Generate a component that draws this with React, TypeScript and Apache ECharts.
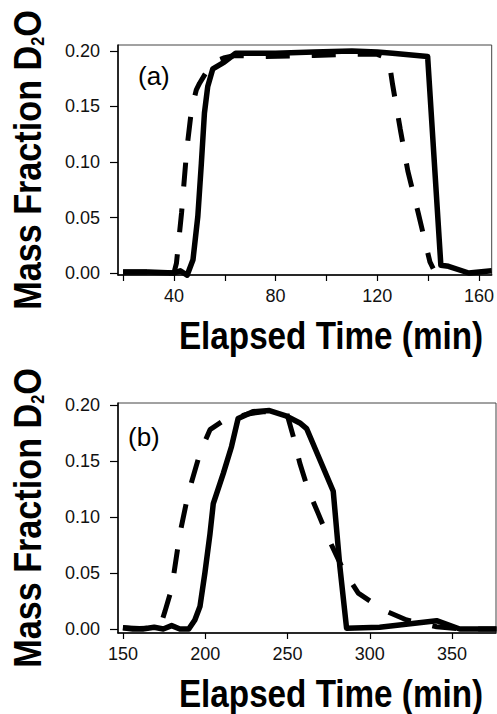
import React, { useEffect, useRef } from "react";
import * as echarts from "echarts";

// Panel (a)
const timeA_solid = [20, 30, 40, 42.5, 45.2, 47.5, 49.4, 50.8, 52, 53.3, 55.3, 59.8, 64.3, 80, 95, 110, 120, 126, 139.8, 145, 148, 156, 165];
const fracA_solid = [0.001, 0.001, 0.0, 0.002, -0.002, 0.012, 0.051, 0.099, 0.144, 0.168, 0.184, 0.19, 0.198, 0.198, 0.199, 0.2, 0.199, 0.198, 0.195, 0.007, 0.006, 0.0, 0.002];
const timeA_dashed = [20, 30, 40, 41, 43, 45, 46.9, 48.8, 50.1, 53, 55.3, 60, 64, 76, 95, 110, 120, 124.5, 126, 129, 132, 136, 140.7, 142];
const fracA_dashed = [0.001, 0.001, 0.0, 0.009, 0.054, 0.11, 0.147, 0.165, 0.171, 0.182, 0.19, 0.194, 0.196, 0.195, 0.196, 0.197, 0.197, 0.193, 0.17, 0.13, 0.092, 0.055, 0.01, 0.004];

// Panel (b)
const timeB_solid = [150, 156, 162, 169, 174.5, 179.6, 184.6, 190, 193.7, 196.8, 199.8, 202.9, 204.9, 211, 216, 220, 229, 239, 249.5, 257.5, 261.6, 277.8, 281.8, 285.9, 306, 340.6, 354.7, 377];
const fracB_solid = [0.001, 0, 0, 0.0015, 0, 0.003, 0, 0, 0.008, 0.02, 0.05, 0.085, 0.112, 0.139, 0.163, 0.188, 0.194, 0.195, 0.19, 0.184, 0.179, 0.123, 0.056, 0.0006, 0.0015, 0.0074, 0, 0];
const timeB_dashed = [150, 160, 170, 173, 175.5, 179.6, 184.6, 189.7, 196.8, 202.9, 210, 217, 226, 235.2, 245, 249.5, 253.5, 257.5, 262.6, 268.7, 275.8, 283.8, 293, 308.1, 322.4, 340.6, 355, 377];
const fracB_dashed = [0.001, 0.0005, 0.001, 0.004, 0.0155, 0.036, 0.085, 0.121, 0.157, 0.178, 0.185, 0.188, 0.192, 0.194, 0.194, 0.193, 0.172, 0.148, 0.124, 0.103, 0.078, 0.053, 0.032, 0.017, 0.008, 0.002, 0, 0];

// Ticks
const yTicks = [0, 0.05, 0.1, 0.15, 0.2];
const xTicksA = [20, 40, 60, 80, 100, 120, 140, 160];
const xLabelsA = [40, 80, 120, 160];
const xTicksB = [150, 200, 250, 300, 350];

const yTitle = "Mass Fraction D{sub|2}O";
const xTitle = "Elapsed Time (min)";
const panelLabels = ["(a)", "(b)"];

const FONT = "'Liberation Sans', Arial, Helvetica, sans-serif";

const pairs = (xs: number[], ys: number[]) => xs.map((x, i) => [x, ys[i]]);

export default function App() {
  const ref = useRef<HTMLDivElement>(null);
  useEffect(() => {
    if (!ref.current) return;
    const chart = echarts.init(ref.current, undefined, { renderer: "svg" });

    const grids = [
      { left: 118, top: 45, width: 378, height: 230 },
      { left: 118, top: 403, width: 378, height: 230 },
    ];

    const axisLineStyle = { show: true, onZero: false, lineStyle: { color: "#000", width: 1.5 } };
    const labelStyle = { color: "#111", fontSize: 18, fontFamily: FONT };

    const xAxisCommon = (idx: number, min: number, max: number, ticks: number[], labels: number[]) => ({
      type: "value" as const,
      gridIndex: idx,
      min,
      max,
      axisLine: axisLineStyle,
      axisTick: { show: true, inside: false, length: 6, customValues: ticks, lineStyle: { color: "#000", width: 1.2 } },
      axisLabel: { ...labelStyle, margin: 12, customValues: labels, formatter: (v: number) => String(v) },
      splitLine: { show: false },
    });

    const yAxisCommon = (idx: number, min: number, max: number) => ({
      type: "value" as const,
      gridIndex: idx,
      min,
      max,
      axisLine: axisLineStyle,
      axisTick: { show: true, inside: false, length: 8, customValues: yTicks, lineStyle: { color: "#000", width: 1.2 } },
      axisLabel: { ...labelStyle, margin: 18, customValues: yTicks, formatter: (v: number) => v.toFixed(2) },
      splitLine: { show: false },
    });

    const solid = (xi: number, data: number[][]) => ({
      type: "line" as const,
      xAxisIndex: xi,
      yAxisIndex: xi,
      data,
      symbol: "none",
      showSymbol: false,
      clip: false,
      z: 4,
      lineStyle: { color: "#000", width: 5.5, type: "solid" as const, join: "round" as const },
    });
    const dashed = (xi: number, data: number[][]) => ({
      type: "line" as const,
      xAxisIndex: xi,
      yAxisIndex: xi,
      data,
      symbol: "none",
      showSymbol: false,
      clip: false,
      z: 3,
      lineStyle: { color: "#000", width: 5, type: [24, 22], cap: "butt" as const },
    });

    const titleStyle = {
      fontSize: 38,
      fontWeight: "bold",
      fontFamily: FONT,
      fill: "#000",
      align: "center",
      verticalAlign: "middle",
    };

    const yTitleEl = (cy: number) => ({
      type: "text",
      x: 28,
      y: cy,
      rotation: Math.PI / 2,
      scaleX: 0.9,
      style: {
        ...titleStyle,
        text: yTitle,
        rich: {
          sub: { fontSize: 18, fontWeight: "bold", fontFamily: FONT, fill: "#000", verticalAlign: "bottom" },
        },
      },
    });
    const xTitleEl = (cy: number) => ({
      type: "text",
      x: 331,
      y: cy,
      scaleX: 0.875,
      style: { ...titleStyle, text: xTitle },
    });
    const panelEl = (text: string, x: number, cy: number) => ({
      type: "text",
      x,
      y: cy,
      style: { text, fontSize: 26, fontFamily: FONT, fill: "#000", align: "left", verticalAlign: "middle" },
    });

    chart.setOption({
      animation: false,
      backgroundColor: "#fff",
      grid: grids.map((g) => ({ ...g, show: true, borderColor: "#444", borderWidth: 1, backgroundColor: "transparent" })),
      xAxis: [
        xAxisCommon(0, 18, 165, xTicksA, xLabelsA),
        xAxisCommon(1, 147, 376.7, xTicksB, xTicksB),
      ],
      yAxis: [yAxisCommon(0, -0.0018, 0.2054), yAxisCommon(1, -0.0036, 0.2018)],
      series: [
        dashed(0, pairs(timeA_dashed, fracA_dashed)),
        solid(0, pairs(timeA_solid, fracA_solid)),
        dashed(1, pairs(timeB_dashed, fracB_dashed)),
        solid(1, pairs(timeB_solid, fracB_solid)),
      ],
      graphic: [
        yTitleEl(160),
        yTitleEl(518),
        xTitleEl(336),
        xTitleEl(694),
        panelEl(panelLabels[0], 138, 76),
        panelEl(panelLabels[1], 128, 437),
      ],
    });

    return () => chart.dispose();
  }, []);

  return (
    <div
      ref={ref}
      style={{ position: "absolute", left: 0, top: 0, width: 497, height: 714, background: "#fff" }}
    />
  );
}
